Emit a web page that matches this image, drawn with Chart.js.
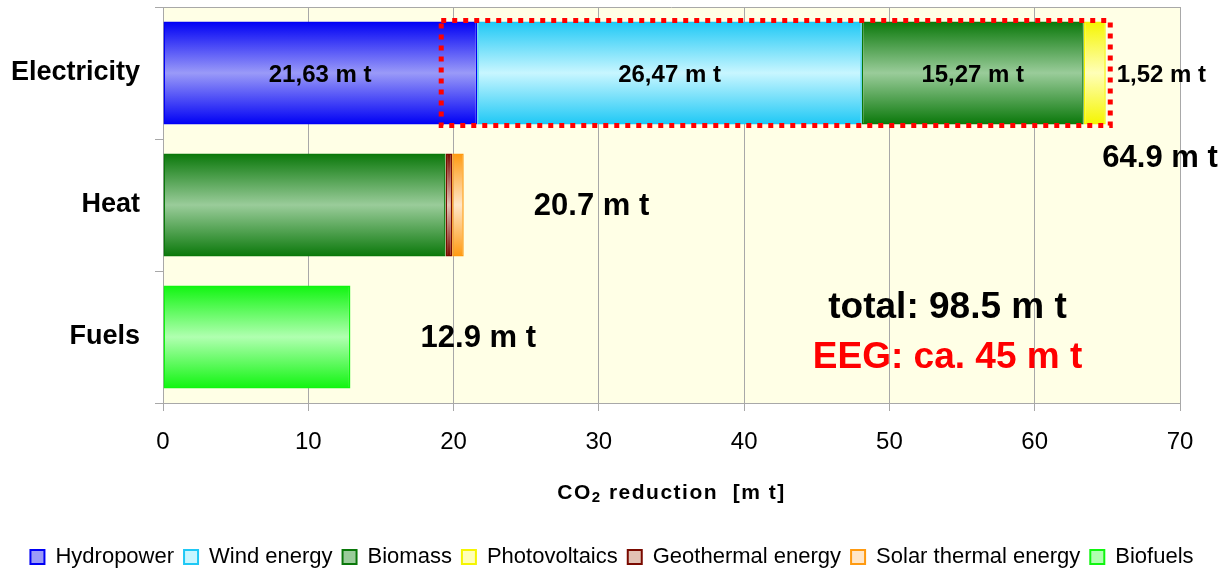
<!DOCTYPE html>
<html>
<head>
<meta charset="utf-8">
<script src="https://cdn.jsdelivr.net/npm/chart.js@4/dist/chart.umd.min.js"></script>
<style>
    html, body { margin: 0; padding: 0; background: #fff; }
    #wrap { width: 1224px; height: 573px; position: relative; }
</style>
</head>
<body>
<div id="wrap"><canvas id="chart"></canvas></div>
<script>
const categories = ['Electricity', 'Heat', 'Fuels']
const xTicks = [0, 10, 20, 30, 40, 50, 60, 70]

// CO2 reduction in million tonnes, per category (null = no segment)
const hydropower = [21.63, null, null]
const windEnergy = [26.47, null, null]
const biomass = [15.27, 19.45, null]
const photovoltaics = [1.52, null, null]
const geothermal = [null, 0.45, null]
const solarThermal = [null, 0.8, null]
const biofuels = [null, null, 12.9]

const seriesNames = ['Hydropower', 'Wind energy', 'Biomass', 'Photovoltaics', 'Geothermal energy', 'Solar thermal energy', 'Biofuels']
const seriesData = [hydropower, windEnergy, biomass, photovoltaics, geothermal, solarThermal, biofuels]

const totalText = 'total: 98.5 m t'
const eegText = 'EEG: ca. 45 m t'

const darks = ['#0000f5', '#1ec8f5', '#0a780a', '#f5f500', '#7a0a00', '#ff9a10', '#10f510']
const lights = ['#9a9af8', '#c8f6ff', '#9acc9a', '#ffffb8', '#e2c2b4', '#ffe6c8', '#b0ffb0']
const BAR_PCT = 0.78
const FONT = '"Liberation Sans", Arial, sans-serif'

const barFill = (i) => (ctx) => {
    const chart = ctx.chart
    const y = chart.scales.y
    if (!chart.chartArea || !y || ctx.dataIndex === undefined) return lights[i]
    const yc = y.getPixelForValue(ctx.dataIndex)
    const half = y.height / categories.length * BAR_PCT / 2
    const g = chart.ctx.createLinearGradient(0, yc - half, 0, yc + half)
    g.addColorStop(0, darks[i])
    g.addColorStop(0.5, lights[i])
    g.addColorStop(1, darks[i])
    return g
}

const fmt = v => v.toFixed(2).replace('.', ',') + ' m t'

const plotBg = {
    id: 'plotBg',
    beforeDraw(chart) {
        const { ctx, chartArea: a } = chart
        ctx.save()
        ctx.fillStyle = '#ffffe6'
        ctx.fillRect(a.left, a.top, a.right - a.left, a.bottom - a.top)
        ctx.restore()
    },
    beforeDatasetsDraw(chart) {
        const { ctx, chartArea: a } = chart
        ctx.save()
        ctx.strokeStyle = '#a8a8a8'
        ctx.lineWidth = 1
        ctx.beginPath()
        ctx.moveTo(a.left, a.top + 0.5)
        ctx.lineTo(a.right, a.top + 0.5)
        ctx.stroke()
        ctx.restore()
    }
}

// axis title with a little letter spacing and a real subscript
const axisTitle = {
    id: 'axisTitle',
    afterDraw(chart) {
        const { ctx, chartArea: a } = chart
        const parts = [
            { t: 'CO', f: 'bold 21px ' + FONT, dy: 0 },
            { t: '2', f: 'bold 15px ' + FONT, dy: 5 },
            { t: ' reduction  [m t]', f: 'bold 21px ' + FONT, dy: 0 }
        ]
        ctx.save()
        ctx.letterSpacing = '1.5px'
        ctx.textBaseline = 'middle'
        ctx.textAlign = 'left'
        ctx.fillStyle = '#000'
        let w = 0
        parts.forEach(p => { ctx.font = p.f; p.w = ctx.measureText(p.t).width; w += p.w })
        let xp = (a.left + a.right) / 2 - w / 2
        const yp = a.bottom + 90
        parts.forEach(p => { ctx.font = p.f; ctx.fillText(p.t, xp, yp + p.dy); xp += p.w })
        ctx.restore()
    }
}

const annotations = {
    id: 'annotations',
    afterDatasetsDraw(chart) {
        const { ctx } = chart
        const x = chart.scales.x
        const y = chart.scales.y
        const half = y.height / categories.length * BAR_PCT / 2
        ctx.save()
        ctx.fillStyle = '#000'
        ctx.textBaseline = 'middle'

        // segment labels on the electricity bar
        let acc = 0
        ctx.font = 'bold 24px ' + FONT
        seriesData.forEach((s, i) => {
            const v = s[0]
            if (v == null) return
            const yc = y.getPixelForValue(0) + 2
            if (v < 5) {
                ctx.textAlign = 'left'
                ctx.fillText(fmt(v), x.getPixelForValue(acc + v + 0.75), yc)
            } else {
                ctx.textAlign = 'center'
                ctx.fillText(fmt(v), x.getPixelForValue(acc + v / 2), yc)
            }
            acc += v
        })

        // totals per category
        ctx.font = 'bold 31px ' + FONT
        categories.forEach((c, ci) => {
            const sum = seriesData.reduce((t, s) => t + (s[ci] || 0), 0)
            const txt = sum.toFixed(1) + ' m t'
            if (ci === 0) {
                ctx.textAlign = 'right'
                ctx.fillText(txt, x.getPixelForValue(72.6), y.getPixelForValue(ci) + half + 34)
            } else {
                ctx.textAlign = 'center'
                ctx.fillText(txt, x.getPixelForValue(sum + 8.8), y.getPixelForValue(ci) + 1)
            }
        })

        // dotted box round the EEG part
        const yc0 = y.getPixelForValue(0)
        const x0 = x.getPixelForValue(19.15)
        const x1 = x.getPixelForValue(65.2)
        ctx.strokeStyle = '#ff0000'
        ctx.lineWidth = 5
        ctx.setLineDash([5, 6])
        ctx.strokeRect(x0, yc0 - half - 1, x1 - x0, 2 * half + 2)
        ctx.setLineDash([])

        // total / EEG
        ctx.textAlign = 'center'
        ctx.font = 'bold 37px ' + FONT
        const yf = y.getPixelForValue(2)
        ctx.fillStyle = '#000'
        ctx.fillText(totalText, x.getPixelForValue(54), yf - 29)
        ctx.fillStyle = '#ff0000'
        ctx.fillText(eegText, x.getPixelForValue(54), yf + 21)
        ctx.restore()
    }
}

const datasets = seriesData.map((d, i) => ({
    label: seriesNames[i],
    data: d,
    backgroundColor: barFill(i),
    borderColor: darks[i],
    borderWidth: 1.5,
    borderSkipped: false,
    barPercentage: BAR_PCT,
    categoryPercentage: 1
}))

new Chart(document.getElementById('chart'), {
    type: 'bar',
    data: { labels: categories, datasets },
    options: {
        indexAxis: 'y',
        responsive: true,
        maintainAspectRatio: false,
        animation: false,
        layout: { padding: { top: 7, right: 0, left: 0, bottom: -5 } },
        plugins: {
            tooltip: { enabled: false },
            legend: {
                position: 'bottom',
                labels: {
                    font: { family: FONT, size: 22 },
                    color: '#000',
                    boxWidth: 14,
                    boxHeight: 14,
                    padding: 10,
                    generateLabels: chart => chart.data.datasets.map((ds, i) => ({
                        text: ds.label,
                        fillStyle: lights[i],
                        strokeStyle: darks[i],
                        lineWidth: 2,
                        hidden: false,
                        datasetIndex: i
                    }))
                }
            }
        },
        scales: {
            x: {
                stacked: true,
                min: 0,
                max: 70,
                afterBuildTicks: scale => { scale.ticks = xTicks.map(v => ({ value: v })) },
                afterFit: scale => {
                    scale.height = 133
                    scale.paddingRight = 44
                },
                grid: { color: '#a8a8a8', tickLength: 8 },
                border: { color: '#a8a8a8' },
                ticks: {
                    color: '#000',
                    padding: 17,
                    maxRotation: 0,
                    font: { family: FONT, size: 24 }
                }
            },
            y: {
                stacked: true,
                afterFit: scale => {
                    scale.width = 163
                    scale.paddingTop = 0
                    scale.paddingBottom = 0
                },
                grid: { offset: true, drawOnChartArea: false, color: '#a8a8a8', tickLength: 8 },
                border: { color: '#a8a8a8' },
                ticks: {
                    color: '#000',
                    padding: 15,
                    font: { family: FONT, size: 27, weight: 'bold' }
                }
            }
        }
    },
    plugins: [plotBg, annotations, axisTitle]
})
</script>
</body>
</html>
